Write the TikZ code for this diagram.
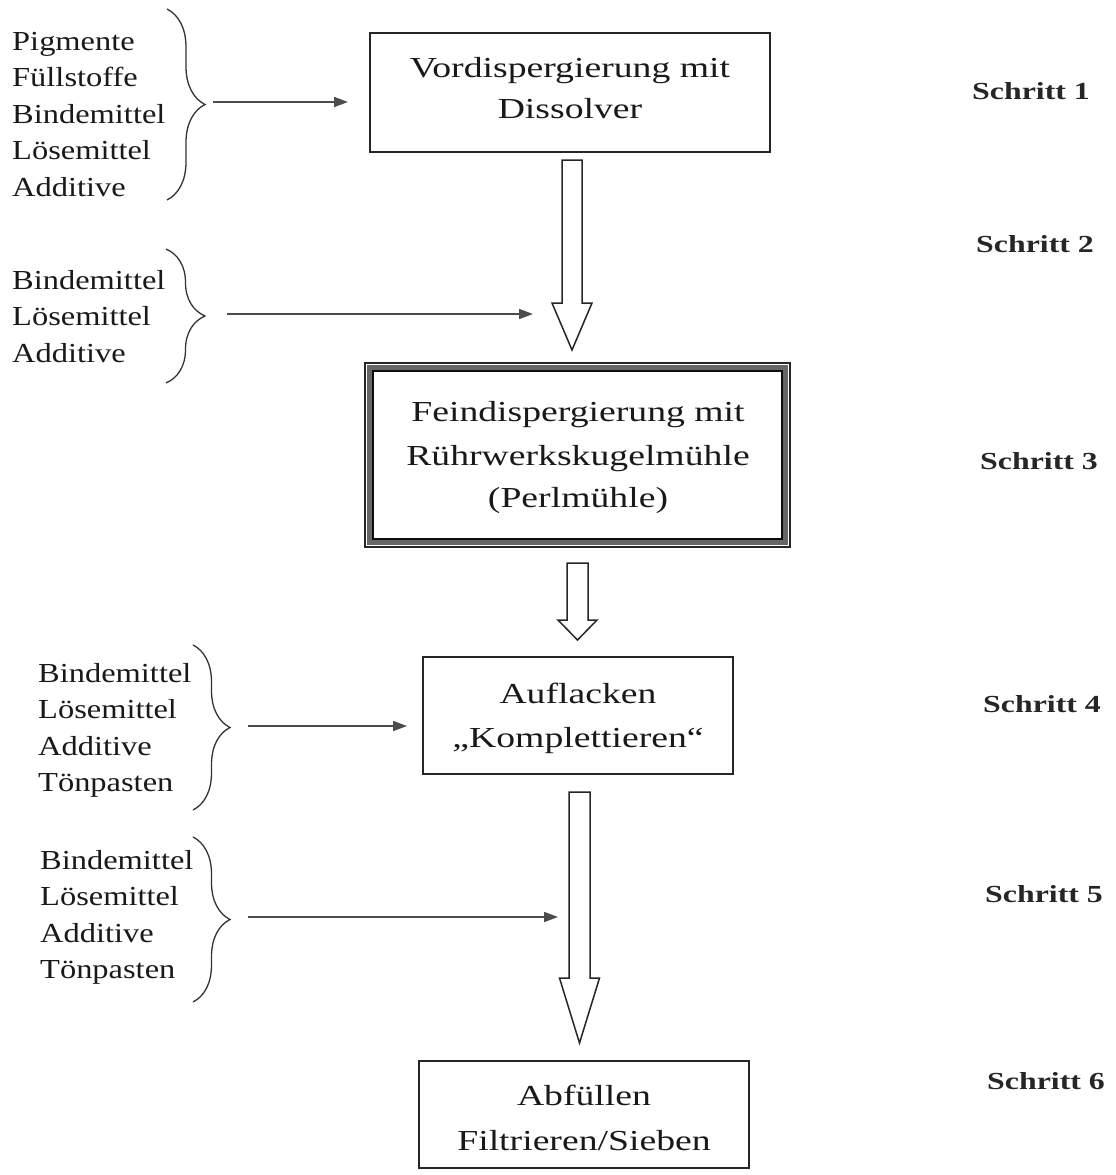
\documentclass[tikz,border=0pt]{standalone}
\usepackage{fontspec}
\setmainfont{Liberation Serif}
\newfontfamily\wf{Liberation Serif}[FakeStretch=1.3]
\newfontfamily\lf{Liberation Serif}[FakeStretch=1.18]
\usetikzlibrary{arrows.meta,decorations.pathreplacing}
\newcommand\harrow[6]{%
  \draw[hollowarr] (#1-#5,#2) -- (#1+#5,#2) -- (#1+#5,#3) -- (#1+#6,#3) -- (#1,#4) -- (#1-#6,#3) -- (#1-#5,#3) -- cycle;}
\tikzset{
  listtext/.style={anchor=base west, inner sep=0pt, font=\lf\fontsize{27.5}{36.5}\selectfont, text=black!90},
  boxline/.style={anchor=base, inner sep=0pt, font=\wf\fontsize{29}{43}\selectfont, text=black!90},
  steplabel/.style={anchor=base west, inner sep=0pt, font=\wf\bfseries\fontsize{24.5}{28}\selectfont, text=black!85},
  procbox/.style={draw=black!85, line width=1.4pt, rectangle, inner sep=0pt},
  bracepath/.style={draw=black!80, line width=1.3pt, decorate},
  feed/.style={draw=black!80, line width=1.6pt, -{Triangle[length=14pt,width=10pt]}, color=black!70},
  hollowarr/.style={draw=black!85, line width=1.5pt, fill=white, line join=miter}
}
\begin{document}
\begin{tikzpicture}[x=1pt,y=-1pt]
\useasboundingbox[fill=white] (0,0) rectangle (1116,1175);

% ---------- process boxes ----------
\node[procbox, minimum width=400pt, minimum height=119pt] (b1) at (570,92.5) {};
\node[boxline] (b1l1) at (570,77) {Vordispergierung mit};
\node[boxline] (b1l2) at (570,118) {Dissolver};

\node[rectangle, minimum width=425pt, minimum height=184pt, inner sep=0pt] (b3) at (577.5,455) {};
\draw[black!85, line width=1.2pt] (365,363) rectangle (790,547);
\draw[black!60, line width=4.5pt] (369.5,367.5) rectangle (785.5,542.5);
\draw[black!95, line width=1.4pt] (373,371) rectangle (782,539);
\node[boxline] (b3l1) at (578,421) {Feindispergierung mit};
\node[boxline] (b3l2) at (578,465) {Rührwerkskugelmühle};
\node[boxline] (b3l3) at (578,507) {(Perlmühle)};

\node[procbox, minimum width=310pt, minimum height=117pt] (b4) at (578,715.5) {};
\node[boxline] (b4l1) at (578,703) {Auflacken};
\node[boxline] (b4l2) at (578,747) {„Komplettieren“};

\node[procbox, minimum width=330pt, minimum height=107pt] (b6) at (584,1114.5) {};
\node[boxline] (b6l1) at (584,1105) {Abfüllen};
\node[boxline] (b6l2) at (584,1150) {Filtrieren/Sieben};

% ---------- hollow flow arrows ----------
\harrow{572}{160}{303}{350}{10}{20}
\harrow{577.5}{563}{620}{640}{10.5}{19.5}
\harrow{579.5}{792}{978}{1043}{10.5}{20}

% ---------- input lists ----------
\node[listtext] (g1) at (12,50) {\begin{tabular}[t]{@{}l@{}}Pigmente\\Füllstoffe\\Bindemittel\\Lösemittel\\Additive\end{tabular}};
\node[listtext] (g2) at (12,289) {\begin{tabular}[t]{@{}l@{}}Bindemittel\\Lösemittel\\Additive\end{tabular}};
\node[listtext] (g4) at (38,682) {\begin{tabular}[t]{@{}l@{}}Bindemittel\\Lösemittel\\Additive\\Tönpasten\end{tabular}};
\node[listtext] (g5) at (40,869) {\begin{tabular}[t]{@{}l@{}}Bindemittel\\Lösemittel\\Additive\\Tönpasten\end{tabular}};

% ---------- braces ----------
\draw[bracepath, decoration={brace, amplitude=38pt}] (167,9) -- (167,200);
\draw[bracepath, decoration={brace, amplitude=39pt}] (166,249) -- (166,383);
\draw[bracepath, decoration={brace, amplitude=37pt}] (193,645) -- (193,810);
\draw[bracepath, decoration={brace, amplitude=37pt}] (193,837) -- (193,1002);

% ---------- feed arrows ----------
\coordinate (f1s) at (213,102);  \coordinate (f1e) at (348,102);
\coordinate (f2s) at (227,314);  \coordinate (f2e) at (533,314);
\coordinate (f4s) at (248,726);  \coordinate (f4e) at (407,726);
\coordinate (f5s) at (248,917);  \coordinate (f5e) at (558,917);
\draw[feed] (f1s) -- (f1e);
\draw[feed] (f2s) -- (f2e);
\draw[feed] (f4s) -- (f4e);
\draw[feed] (f5s) -- (f5e);

% ---------- step labels ----------
\node[steplabel] (s1) at (972,99) {Schritt 1};
\node[steplabel] (s2) at (976,252) {Schritt 2};
\node[steplabel] (s3) at (980,469) {Schritt 3};
\node[steplabel] (s4) at (983,712) {Schritt 4};
\node[steplabel] (s5) at (985,902) {Schritt 5};
\node[steplabel] (s6) at (987,1089) {Schritt 6};
\end{tikzpicture}
\end{document}
